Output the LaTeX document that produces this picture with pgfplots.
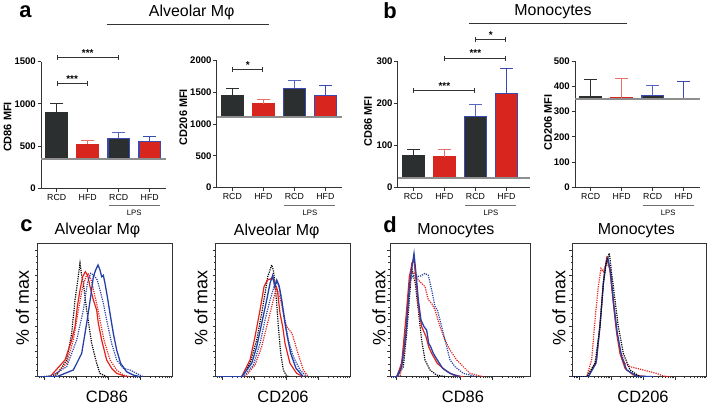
\documentclass[border=0pt]{standalone}
\usepackage{pgfplots}
\pgfplotsset{compat=1.18}
\usepackage{fontspec}
\setmainfont{Liberation Sans}
\usetikzlibrary{arrows.meta}

\definecolor{barblack}{HTML}{2B2F30}
\definecolor{barred}{HTML}{D8261E}
\definecolor{barblue}{HTML}{3A4AAE}
\definecolor{axgray}{HTML}{333333}
\definecolor{basegray}{HTML}{8E8E8E}
\definecolor{errred}{HTML}{E8706A}
\definecolor{errblue}{HTML}{5565C0}
\definecolor{hred}{HTML}{E2231C}
\definecolor{hblue}{HTML}{2541A8}

\tikzset{
  brk/.style={axgray, line width=1pt, {Bar[width=5bp]}-{Bar[width=5bp]}},
  stars/.style={font=\bfseries\fontsize{10}{10}\selectfont, anchor=south, inner sep=0.5pt, yshift=0.5bp},
}

\pgfplotsset{
  frameax/.style={
    scale only axis, clip=false, enlargelimits=false,
    axis x line*=bottom, axis y line*=left,
    axis line style={axgray, line width=0.9pt, -},
    tick style={axgray, line width=0.9pt},
    tick align=outside, major tick length=3.5bp,
    xmin=-0.506, ymin=0,
    xtick={0,1,2,3}, xticklabels={RCD,HFD,RCD,HFD},
    xticklabel style={font=\fontsize{8.8}{8.8}\selectfont, inner sep=2pt},
    yticklabel style={font=\bfseries\fontsize{9.6}{9.6}\selectfont, inner sep=1.5pt},
    /pgf/number format/assume math mode=true,
    /pgf/number format/1000 sep={},
  },
  barax/.style={scale only axis, hide axis, enlargelimits=false, xmin=-0.506},
  barbase/.style={ybar, bar width=21.5bp, bar shift=0pt, line width=0.9pt,
     error bars/y dir=plus, error bars/y explicit},
  bk/.style={barbase, fill=barblack, draw=barblack,
     error bars/error bar style={barblack, line width=1pt},
     error bars/error mark options={rotate=90, barblack, mark size=6.3bp, line width=1pt}},
  rd/.style={barbase, fill=barred, draw=barred,
     error bars/error bar style={errred, line width=1pt},
     error bars/error mark options={rotate=90, errred, mark size=6.3bp, line width=1pt}},
  bkl/.style={barbase, fill=barblack, draw=barblue, line width=1.2pt,
     error bars/error bar style={errblue, line width=1pt},
     error bars/error mark options={rotate=90, errblue, mark size=6.3bp, line width=1pt}},
  rdl/.style={barbase, fill=barred, draw=barblue, line width=1.2pt,
     error bars/error bar style={barblue, line width=1pt},
     error bars/error mark options={rotate=90, barblue, mark size=6.3bp, line width=1pt}},
  histax/.style={
    scale only axis, height=133.4bp, clip=true, enlargelimits=false,
    axis line style={axgray, line width=0.8pt},
    xmin=0, ymin=0, ymax=105.3,
    xtick={20,116,212,308},
    minor xtick={5,11,16,49,66,78,87,95,101,107,112,145,162,174,183,191,197,203,208,241,258,270,279,287,293,299,304,337,354,366,375,383,389,395,400},
    ytick={0,20,40,60,80,100}, minor y tick num=3,
    xticklabels={}, yticklabels={},
    tick align=outside, xtick pos=left, ytick pos=left,
    major tick length=3bp, minor tick length=1.6bp,
    tick style={axgray, line width=0.6pt},
  },
  hbk/.style={black, line width=1.2pt, dash pattern=on 1.2pt off 1.1pt},
  hrs/.style={hred, line width=1.2pt},
  hrd/.style={hred, line width=1.2pt, dash pattern=on 1.2pt off 1.1pt},
  hbs/.style={hblue, line width=1.3pt},
  hbd/.style={hblue, line width=1.2pt, dash pattern=on 1.2pt off 1.1pt},
}

\begin{document}
\begin{tikzpicture}
\path[use as bounding box] (0,0) rectangle (708bp,404bp);

% ---------------- panel a, CD86 ----------------
\begin{axis}[barax, at={(41bp,245.24bp)}, width=125bp, height=97.06bp, xmax=3.526, ymin=350, ymax=1500]
\addplot[bk]  coordinates {(0,900) +- (0,107)};
\addplot[rd]  coordinates {(1,525) +- (0,44)};
\addplot[bkl] coordinates {(2,592) +- (0,75)};
\addplot[rdl] coordinates {(3,557) +- (0,59)};
\end{axis}
\begin{axis}[frameax, at={(41bp,215.7bp)}, width=125bp, height=126.6bp, xmax=3.526, ymax=1500, ytick={0,500,1000,1500}]
\addplot[basegray, line width=1.8pt] coordinates {(-0.506,350) (3.526,350)};
\draw[brk] (axis cs:0,1550) -- (axis cs:2,1550);
\node[stars] at (axis cs:1,1550) {***};
\draw[brk] (axis cs:0,1240) -- (axis cs:1,1240);
\node[stars] at (axis cs:0.5,1240) {***};
\end{axis}

% ---------------- panel a, CD206 ----------------
\begin{axis}[barax, at={(216.7bp,286.8bp)}, width=125bp, height=56.5bp, xmax=3.526, ymin=1110, ymax=2000]
\addplot[bk]  coordinates {(0,1449) +- (0,108)};
\addplot[rd]  coordinates {(1,1320) +- (0,74)};
\addplot[bkl] coordinates {(2,1568) +- (0,126)};
\addplot[rdl] coordinates {(3,1457) +- (0,152)};
\end{axis}
\begin{axis}[frameax, at={(216.7bp,216.3bp)}, width=125bp, height=127bp, xmax=3.526, ymax=2000, ytick={0,500,1000,1500,2000}]
\addplot[basegray, line width=1.8pt] coordinates {(-0.506,1110) (3.526,1110)};
\draw[brk] (axis cs:0,1857) -- (axis cs:1,1857);
\node[stars] at (axis cs:0.5,1857) {*};
\end{axis}

% ---------------- panel b, CD86 ----------------
\begin{axis}[barax, at={(397.7bp,226.4bp)}, width=132.3bp, height=116.6bp, xmax=3.76, ymin=23, ymax=300]
\addplot[bk]  coordinates {(0,76) +- (0,13)};
\addplot[rd]  coordinates {(1,72.7) +- (0,16)};
\addplot[bkl] coordinates {(2,169) +- (0,28)};
\addplot[rdl] coordinates {(3,222) +- (0,61)};
\end{axis}
\begin{axis}[frameax, at={(397.7bp,216.7bp)}, width=132.3bp, height=126.3bp, xmax=3.76, ymax=300, ytick={0,100,200,300}]
\addplot[basegray, line width=1.8pt] coordinates {(-0.506,23) (3.76,23)};
\draw[brk] (axis cs:0,229.5) -- (axis cs:2,229.5);
\node[stars] at (axis cs:1,229.5) {***};
\draw[brk] (axis cs:1,307) -- (axis cs:3,307);
\node[stars] at (axis cs:2,307) {***};
\draw[brk] (axis cs:2,351) -- (axis cs:3,351);
\node[stars] at (axis cs:2.5,351) {*};
\end{axis}

% ---------------- panel b, CD206 ----------------
\begin{axis}[barax, at={(575bp,304.6bp)}, width=125bp, height=38.4bp, xmax=3.526, ymin=348, ymax=500]
\addplot[bk]  coordinates {(0,359) +- (0,68)};
\addplot[rd]  coordinates {(1,355) +- (0,75)};
\addplot[bkl] coordinates {(2,364) +- (0,38)};
\addplot[rdl] coordinates {(3,351) +- (0,67)};
\end{axis}
\begin{axis}[frameax, at={(575bp,216.7bp)}, width=125bp, height=126.3bp, xmax=3.526, ymax=500, ytick={0,100,200,300,400,500}]
\addplot[basegray, line width=1.8pt] coordinates {(-0.506,348) (3.526,348)};
\end{axis}

% LPS underlines and labels
\foreach \l in {41,216.7,397.7,575}{
  \draw[basegray!80!black, line width=0.9pt] ({(\l+67.7)*1bp},198.5bp) -- ({(\l+118.7)*1bp},198.5bp);
  \node[font=\fontsize{7.8}{7.8}\selectfont, inner sep=0pt] at ({(\l+93.2)*1bp},191.5bp) {LPS};
}

% y labels of bar charts
\node[rotate=90, font=\bfseries\fontsize{11}{11}\selectfont, inner sep=0pt] at (7.5bp,277bp) {CD86 MFI};
\node[rotate=90, font=\bfseries\fontsize{11}{11}\selectfont, inner sep=0pt] at (183.3bp,287bp) {CD206 MFI};
\node[rotate=90, font=\bfseries\fontsize{11}{11}\selectfont, inner sep=0pt] at (368bp,282.3bp) {CD86 MFI};
\node[rotate=90, font=\bfseries\fontsize{11}{11}\selectfont, inner sep=0pt] at (548bp,281.5bp) {CD206 MFI};

% headers
\node[font=\bfseries\fontsize{22}{22}\selectfont, inner sep=0pt] at (25.5bp,392bp) {a};
\node[font=\fontsize{16}{16}\selectfont, inner sep=0pt] at (191.7bp,391.5bp) {Alveolar Mφ};
\draw[axgray, line width=0.9pt] (106.7bp,380bp) -- (269bp,380bp);
\node[font=\bfseries\fontsize{22}{22}\selectfont, inner sep=0pt] at (390bp,393bp) {b};
\node[font=\fontsize{16}{16}\selectfont, inner sep=0pt] at (553bp,392bp) {Monocytes};
\draw[axgray, line width=0.9pt] (469bp,380.7bp) -- (627bp,380.7bp);

% ---------------- histograms ----------------
\begin{axis}[histax, at={(37.7bp,27.3bp)}, width=134.6bp, xmax=404, x filter/.expression={x-113}]
\addplot[hbk] coordinates {(118,0)(130,0)(170,1.3)(200,13.2)(215,34.2)(225,60.5)(232,73.7)(240,89.5)(245,80)(250,73.7)(260,52.6)(275,26.3)(290,10.5)(300,2.6)(320,0)};
\addplot[hrs] coordinates {(118,0)(150,0)(195,13.2)(215,28.9)(225,39.5)(232,55.3)(240,68.4)(248,78.9)(256,82.9)(263,80)(270,71.1)(280,60.5)(290,52.6)(295,42.1)(305,28.9)(320,13.2)(335,6.6)(350,2.6)(380,0)};
\addplot[hrd] coordinates {(118,0)(160,0)(200,10.5)(220,28.9)(235,52.6)(248,71.1)(258,78.9)(265,81.6)(275,75)(285,63.2)(292,55.3)(300,44.7)(312,28.9)(330,13.2)(350,5.3)(370,1.3)(390,0)};
\addplot[hbd] coordinates {(118,0)(150,0)(200,7.9)(230,28.9)(250,52.6)(262,73.7)(272,81.6)(282,80)(292,76.3)(300,68.4)(310,57.9)(320,44.7)(335,26.3)(350,13.2)(370,6.6)(390,5.3)(410,2.6)(430,0)};
\addplot[hbs] coordinates {(118,0)(170,0)(220,5.3)(245,18.4)(260,42.1)(272,63.2)(280,78.9)(287,84.2)(294,88.2)(300,84.2)(305,78.9)(310,80)(315,73.7)(322,63.2)(330,50)(340,34.2)(350,21.1)(362,10.5)(380,3.9)(400,1.3)(420,0)};
\end{axis}

\begin{axis}[histax, at={(215.7bp,27.3bp)}, width=134.3bp, xmax=403, x filter/.expression={x-137}]
\addplot[hbk] coordinates {(142,0)(215,0)(240,10.5)(260,28.9)(275,50)(285,65.8)(293,78.9)(300,84.2)(305,88.2)(310,84.2)(315,73.7)(320,57.9)(325,39.5)(332,18.4)(340,5.3)(350,0.5)(360,0)};
\addplot[hrs] coordinates {(142,0)(215,0)(240,13.2)(255,31.6)(270,52.6)(282,71.1)(292,76.3)(300,77)(307,78)(315,73.7)(322,68.4)(330,50)(338,39.5)(345,26.3)(360,10.5)(380,2.6)(400,0)};
\addplot[hrd] coordinates {(142,0)(225,0)(255,9.2)(275,23.7)(290,39.5)(305,55.3)(318,69.7)(326,66)(334,57.9)(342,47.4)(350,39.5)(358,36.8)(366,34.2)(375,26.3)(387,15.8)(400,5.3)(415,0)};
\addplot[hbd] coordinates {(142,0)(220,0)(250,9.2)(270,26.3)(285,44.7)(300,60.5)(312,71.1)(322,75)(330,68.4)(338,55.3)(346,42.1)(355,28.9)(370,15.8)(390,5.3)(410,0)};
\addplot[hbs] coordinates {(142,0)(215,0)(245,10.5)(260,23.7)(275,42.1)(290,60.5)(300,73.7)(308,80)(314,71.1)(320,76.3)(327,72)(335,60.5)(345,42.1)(352,31.6)(362,18.4)(378,6.6)(400,0)};
\end{axis}

\begin{axis}[histax, at={(390bp,27.3bp)}, width=140bp, xmax=420, x filter/.expression={x-120}]
\addplot[hbk] coordinates {(125,0)(140,0)(160,7.9)(170,34.2)(178,60.5)(185,86.8)(190,80)(196,73.7)(205,52.6)(215,28.9)(225,13.2)(240,5.3)(260,1.3)(290,0)};
\addplot[hrd] coordinates {(125,0)(150,0)(165,23.7)(175,60.5)(185,82.9)(195,81.6)(205,76.3)(215,73.7)(225,71.1)(235,60.5)(245,57.9)(255,52.6)(270,39.5)(285,28.9)(300,21.1)(320,13.2)(340,7.9)(360,2.6)(400,0)};
\addplot[hbd] coordinates {(125,0)(145,0)(160,18.4)(170,47.4)(180,76.3)(190,80)(200,78.9)(212,79.5)(225,81.6)(235,80)(245,68.4)(255,55.3)(262,52.6)(270,44.7)(280,34.2)(290,23.7)(300,13.2)(315,7.9)(340,2.6)(380,0)};
\addplot[hrs] coordinates {(125,0)(140,0)(155,10.5)(168,47.4)(178,78.9)(186,89.5)(192,92)(198,76.3)(205,55.3)(215,39.5)(228,31.6)(236,23.7)(245,18.4)(262,10.5)(285,5.3)(310,1.3)(340,0)};
\addplot[hbs] coordinates {(125,0)(140,0)(155,7.9)(168,34.2)(178,71.1)(186,86.8)(192,97.4)(198,81.6)(205,60.5)(213,44.7)(222,39.5)(230,36.8)(236,26.3)(242,23.7)(250,18.4)(262,13.2)(278,6.6)(300,2.6)(330,0)};
\end{axis}

\begin{axis}[histax, at={(572.3bp,27.3bp)}, width=134.4bp, xmax=403, x filter/.expression={x-157}]
\addplot[hrd] coordinates {(162,0)(200,0)(215,13.2)(225,44.7)(235,71.1)(243,85.5)(250,82.9)(258,89.5)(268,86.8)(280,60.5)(290,36.8)(300,21.1)(315,10.5)(330,7.9)(350,6.6)(370,5.3)(390,3.9)(410,2.6)(430,0.5)(450,0)};
\addplot[hrs] coordinates {(162,0)(205,0)(230,13.2)(242,47.4)(252,78.9)(260,93.4)(270,84.2)(280,57.9)(290,34.2)(300,18.4)(315,6.6)(340,1.3)(380,0)};
\addplot[hbs] coordinates {(162,0)(205,0)(228,10.5)(240,39.5)(250,73.7)(258,89.5)(264,93.4)(272,81.6)(282,55.3)(292,34.2)(305,15.8)(320,5.3)(350,0.5)(400,0)};
\addplot[hbk] coordinates {(162,0)(200,0)(225,10.5)(240,39.5)(250,73.7)(260,92.1)(268,97.4)(275,81.6)(285,60.5)(295,39.5)(310,18.4)(330,5.3)(360,0)};
\end{axis}

% histogram texts
\node[font=\bfseries\fontsize{22}{22}\selectfont, inner sep=0pt] at (26.5bp,178bp) {c};
\node[font=\bfseries\fontsize{22}{22}\selectfont, inner sep=0pt] at (390bp,179bp) {d};
\node[font=\fontsize{16}{16}\selectfont, inner sep=0pt] at (97.5bp,173.5bp) {Alveolar Mφ};
\node[font=\fontsize{16}{16}\selectfont, inner sep=0pt] at (276.7bp,172.5bp) {Alveolar Mφ};
\node[font=\fontsize{16}{16}\selectfont, inner sep=0pt] at (455.8bp,173bp) {Monocytes};
\node[font=\fontsize{16}{16}\selectfont, inner sep=0pt] at (636.3bp,173bp) {Monocytes};
\foreach \xx in {22.5,201,379,559}{
  \node[rotate=90, font=\fontsize{18}{18}\selectfont, inner sep=0pt] at (\xx bp,96bp) {\% of max};
}
\node[font=\fontsize{16.5}{16.5}\selectfont, inner sep=0pt, anchor=base] at (107bp,2bp) {CD86};
\node[font=\fontsize{16.5}{16.5}\selectfont, inner sep=0pt, anchor=base] at (283bp,2bp) {CD206};
\node[font=\fontsize{16.5}{16.5}\selectfont, inner sep=0pt, anchor=base] at (463bp,2bp) {CD86};
\node[font=\fontsize{16.5}{16.5}\selectfont, inner sep=0pt, anchor=base] at (643bp,2bp) {CD206};
\end{tikzpicture}
\end{document}
